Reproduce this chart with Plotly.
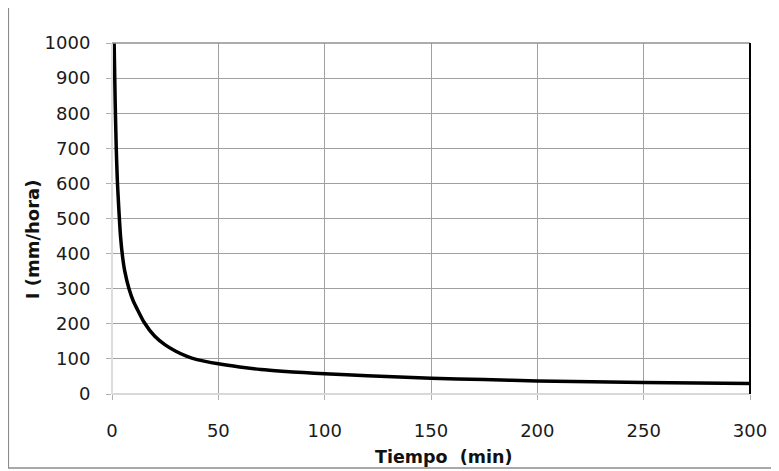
import plotly.graph_objects as go

# Data (IDF curve)
tiempo = [1, 1.5, 2, 2.5, 3, 4, 5, 6, 8, 10, 12, 15, 20, 25, 30, 35, 40, 50,
          60, 70, 80, 90, 100, 120, 150, 175, 200, 250, 300]
intensidad = [1000, 830, 700, 610, 550, 450, 390, 350, 300, 265, 240, 205, 165,
              140, 122, 108, 98, 86, 77, 70, 65, 61, 58, 52, 45, 41, 37, 33, 30]

x_ticks = [0, 50, 100, 150, 200, 250, 300]
y_ticks = [0, 100, 200, 300, 400, 500, 600, 700, 800, 900, 1000]

x_title = "Tiempo  (min)"
y_title = "I (mm/hora)"

# page body has an 8px margin: lay the figure out in screen pixels minus 8
OFF = 8
W, H = 779 - OFF, 471 - OFF
L, R, T, B = 112 - OFF, 27, 43 - OFF, 77
PW, PH = W - L - R, H - T - B


def px(x):
    return (x - OFF - L) / PW


def py(y):
    return (H - B - (y - OFF)) / PH


fig = go.Figure()
fig.add_trace(go.Scatter(
    x=tiempo, y=intensidad, mode="lines",
    line=dict(color="black", width=3.5, shape="spline", smoothing=0.6),
    showlegend=False, cliponaxis=True,
))

tick_font = dict(family="DejaVu Sans", size=18, color="#1a1a1a")

fig.update_layout(
    width=W, height=H,
    margin=dict(l=L, r=R, t=T, b=B),
    paper_bgcolor="white", plot_bgcolor="white",
    xaxis=dict(
        range=[0, 300], tickvals=x_ticks, ticktext=[str(v) for v in x_ticks],
        showgrid=True, gridcolor="#a0a0a0", gridwidth=1.3,
        zeroline=False, showline=False,
        ticks="outside", ticklen=5, tickcolor="#b0b0b0", tickwidth=1.3,
        tickfont=tick_font, ticklabelstandoff=15,
    ),
    yaxis=dict(
        range=[0, 1000], tickvals=y_ticks, ticktext=[str(v) for v in y_ticks],
        showgrid=True, gridcolor="#a0a0a0", gridwidth=1.3,
        zeroline=False, showline=False,
        ticks="outside", ticklen=5, tickcolor="#b0b0b0", tickwidth=1.3,
        tickfont=tick_font, ticklabelstandoff=12,
    ),
    shapes=[
        # outer chart border
        dict(type="rect", xref="paper", yref="paper",
             x0=px(8), x1=px(776), y0=py(468), y1=py(6),
             line=dict(color="#8c8c8c", width=1.5), layer="below"),
        # plot area edges
        dict(type="line", xref="paper", yref="paper", x0=0, x1=1, y0=0, y1=0,
             line=dict(color="#d8d8d8", width=2)),
        dict(type="line", xref="paper", yref="paper", x0=0, x1=0, y0=0, y1=1,
             line=dict(color="#dcdcdc", width=2)),
        dict(type="line", xref="paper", yref="paper", x0=0, x1=1, y0=1, y1=1,
             line=dict(color="#909090", width=1.5)),
        dict(type="line", xref="paper", yref="paper", x0=1, x1=1, y0=0, y1=1,
             line=dict(color="black", width=2)),
    ],
    annotations=[
        dict(text="<b>" + x_title + "</b>", xref="paper", yref="paper",
             x=px(445), y=py(457), showarrow=False,
             font=dict(family="DejaVu Sans", size=17.5, color="#111111"),
             xanchor="center", yanchor="middle"),
        dict(text="<b>" + y_title + "</b>", xref="paper", yref="paper",
             x=px(32), y=py(239), showarrow=False,
             font=dict(family="DejaVu Sans", size=18, color="#111111"),
             textangle=-90, xanchor="center", yanchor="middle"),
    ],
)

fig.write_html("out.html")
